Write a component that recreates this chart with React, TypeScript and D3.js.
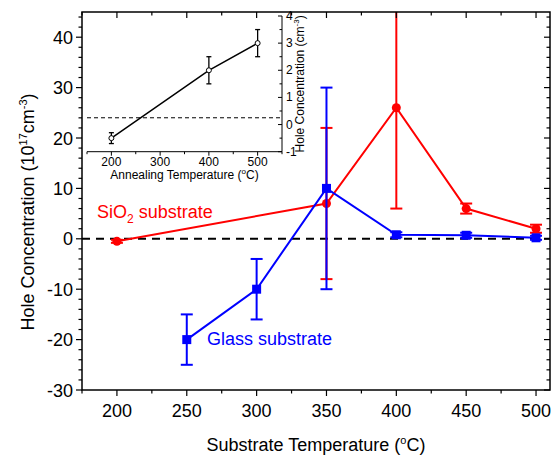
import React from "react";
import * as d3 from "d3";

// main chart data (hole concentration, 10^17 cm^-3)
const sio2Temps = [200, 350, 400, 450, 500];
const sio2Values = [-0.5, 7, 26, 6, 2];
const sio2Errors = [0.3, 15, 20, 1, 0.8];

const glassTemps = [250, 300, 350, 400, 450, 500];
const glassValues = [-20, -10, 10, 0.8, 0.7, 0.2];
const glassErrors = [5, 6, 20, 0.5, 0.5, 0.4];

const xTicks = [200, 250, 300, 350, 400, 450, 500];
const yTicks = [-30, -20, -10, 0, 10, 20, 30, 40];

// inset data (annealing)
const annealTemps = [200, 400, 500];
const annealValues = [-0.5, 2, 3];
const annealErrors = [0.2, 0.5, 0.5];
const insetXTicks = [200, 300, 400, 500];
const insetYTicks = [-1, 0, 1, 2, 3, 4];
const insetRefLevel = 0.25;

const W = 554, H = 456;
const font = "'Liberation Sans', Arial, sans-serif";

export default function App() {
  const x = d3.scaleLinear().domain([175, 510]).range([82, 550]);
  const y = d3.scaleLinear().domain([-30, 45]).range([390, 12]);

  const ix = d3.scaleLinear().domain([150, 550]).range([87, 282]);
  const iy = d3.scaleLinear().domain([-1, 4]).range([151.7, 16]);

  const sio2 = sio2Temps.map((t, i) => ({ t, v: sio2Values[i], e: sio2Errors[i] }));
  const glass = glassTemps.map((t, i) => ({ t, v: glassValues[i], e: glassErrors[i] }));
  const anneal = annealTemps.map((t, i) => ({ t, v: annealValues[i], e: annealErrors[i] }));

  const mainLine = d3.line<any>().x(d => x(d.t)).y(d => y(d.v));
  const insetLine = d3.line<any>().x(d => ix(d.t)).y(d => iy(d.v));

  const xMinor = d3.range(175, 510, 25);
  const yMinor = d3.range(-30, 45.01, 2);
  const ixMinor = d3.range(150, 551, 50);
  const iyMinor = d3.range(-1, 4.01, 0.5);

  const [x0, x1] = x.range();
  const [yb, yt] = y.range();

  const errBars = (data: any[], color: string, cap: number, key: string) =>
    data.map((d, i) => {
      const top = Math.max(y(d.v + d.e), yt);
      const bot = y(d.v - d.e);
      const cx = x(d.t);
      return (
        <g key={key + i} stroke={color} strokeWidth={2}>
          <line x1={cx} x2={cx} y1={top} y2={bot} />
          {y(d.v + d.e) >= yt && <line x1={cx - cap} x2={cx + cap} y1={top} y2={top} />}
          <line x1={cx - cap} x2={cx + cap} y1={bot} y2={bot} />
        </g>
      );
    });

  return (
    <svg width={W} height={H} style={{ position: "absolute", left: 0, top: 0 }} fontFamily={font}>
      <rect width={W} height={H} fill="white" />

      {/* zero line */}
      <line x1={x0} x2={x1} y1={y(0)} y2={y(0)} stroke="black" strokeWidth={2} strokeDasharray="8,6" />

      {/* inset */}
      <g>
        <line x1={ix(150)} x2={ix(550)} y1={iy(insetRefLevel)} y2={iy(insetRefLevel)}
          stroke="black" strokeWidth={1} strokeDasharray="4,3" />
        <line x1={ix(150)} x2={ix(550)} y1={iy(-1)} y2={iy(-1)} stroke="black" strokeWidth={1} />
        <line x1={ix(550)} x2={ix(550)} y1={iy(-1)} y2={iy(4)} stroke="black" strokeWidth={1} />
        {ixMinor.map(t => (
          <line key={"ixm" + t} x1={ix(t)} x2={ix(t)} y1={iy(-1)}
            y2={iy(-1) + (t % 100 === 0 ? 4 : 2.5)} stroke="black" strokeWidth={1} />
        ))}
        {iyMinor.map(t => (
          <line key={"iym" + t} x1={ix(550)} x2={ix(550) - (Number.isInteger(t) ? 4 : 2.5)}
            y1={iy(t)} y2={iy(t)} stroke="black" strokeWidth={1} />
        ))}
        {insetXTicks.map(t => (
          <text key={"ixl" + t} x={ix(t)} y={iy(-1) + 14} textAnchor="middle" fontSize={12}>{t}</text>
        ))}
        {insetYTicks.map(t => (
          <text key={"iyl" + t} x={ix(550) + 4} y={iy(t) + 4} fontSize={12}>{t}</text>
        ))}
        <text x={ix(350)} y={179} textAnchor="middle" fontSize={12}>
          Annealing Temperature (<tspan dy={-5} fontSize={8}>o</tspan><tspan dy={5}>C)</tspan>
        </text>
        <text transform={`translate(${304},${iy(1.5)}) rotate(-90)`} textAnchor="middle" fontSize={12}>
          Hole Concentration (cm<tspan dy={-5} fontSize={8}>-3</tspan><tspan dy={5}>)</tspan>
        </text>
        {anneal.map((d, i) => (
          <g key={"ie" + i} stroke="black" strokeWidth={1.3}>
            <line x1={ix(d.t)} x2={ix(d.t)} y1={iy(d.v + d.e)} y2={iy(d.v - d.e)} />
            <line x1={ix(d.t) - 2.5} x2={ix(d.t) + 2.5} y1={iy(d.v + d.e)} y2={iy(d.v + d.e)} />
            <line x1={ix(d.t) - 2.5} x2={ix(d.t) + 2.5} y1={iy(d.v - d.e)} y2={iy(d.v - d.e)} />
          </g>
        ))}
        <path d={insetLine(anneal) || ""} fill="none" stroke="black" strokeWidth={1.5} />
        {anneal.map((d, i) => (
          <circle key={"ic" + i} cx={ix(d.t)} cy={iy(d.v)} r={2.5} fill="white" stroke="black" strokeWidth={1} />
        ))}
      </g>

      {/* SiO2 series */}
      {errBars(sio2, "#ff0000", 6, "se")}
      <path d={mainLine(sio2) || ""} fill="none" stroke="#ff0000" strokeWidth={2} />
      {sio2.map((d, i) => (
        <circle key={"sc" + i} cx={x(d.t)} cy={y(d.v)} r={4.5} fill="#ff0000" />
      ))}

      {/* Glass series */}
      {errBars(glass, "#0000ff", 6, "ge")}
      <path d={mainLine(glass) || ""} fill="none" stroke="#0000ff" strokeWidth={2} />
      {glass.map((d, i) => (
        <rect key={"gs" + i} x={x(d.t) - 4.5} y={y(d.v) - 4.5} width={9} height={9} fill="#0000ff" />
      ))}

      {/* frame */}
      <rect x={x0} y={yt} width={x1 - x0} height={yb - yt} fill="none" stroke="black" strokeWidth={1.5} />

      {/* x ticks: bottom outward, top inward */}
      {xMinor.map(t => {
        const major = t % 50 === 0;
        const len = major ? 6 : 3.5;
        return (
          <g key={"xt" + t} stroke="black" strokeWidth={1.2}>
            <line x1={x(t)} x2={x(t)} y1={yb} y2={yb + len} />
            <line x1={x(t)} x2={x(t)} y1={yt} y2={yt + len} />
          </g>
        );
      })}
      {yMinor.map(t => {
        const major = t % 10 === 0;
        const len = major ? 6 : 3.5;
        return (
          <g key={"yt" + t} stroke="black" strokeWidth={1.2}>
            <line x1={x0} x2={x0 - len} y1={y(t)} y2={y(t)} />
            <line x1={x1} x2={x1 - len} y1={y(t)} y2={y(t)} />
          </g>
        );
      })}
      {xTicks.map(t => (
        <text key={"xl" + t} x={x(t)} y={yb + 27} textAnchor="middle" fontSize={18}>{t}</text>
      ))}
      {yTicks.map(t => (
        <text key={"yl" + t} x={x0 - 9} y={y(t) + 6.5} textAnchor="end" fontSize={18}>{t}</text>
      ))}

      {/* axis titles */}
      <text x={(x0 + x1) / 2} y={451} textAnchor="middle" fontSize={18}>
        Substrate Temperature (<tspan dy={-7} fontSize={11}>o</tspan><tspan dy={7}>C)</tspan>
      </text>
      <text transform={`translate(${34},${212}) rotate(-90)`} textAnchor="middle" fontSize={18}>
        Hole Concentration (10<tspan dy={-7} fontSize={11}>17</tspan><tspan dy={7}>cm</tspan>
        <tspan dy={-7} fontSize={11}>-3</tspan><tspan dy={7}>)</tspan>
      </text>

      {/* series labels */}
      <text x={97} y={218} fill="#ff0000" fontSize={18}>
        SiO<tspan dy={5} fontSize={12}>2</tspan><tspan dy={-5}> substrate</tspan>
      </text>
      <text x={207} y={345} fill="#0000ff" fontSize={18}>Glass substrate</text>
    </svg>
  );
}
